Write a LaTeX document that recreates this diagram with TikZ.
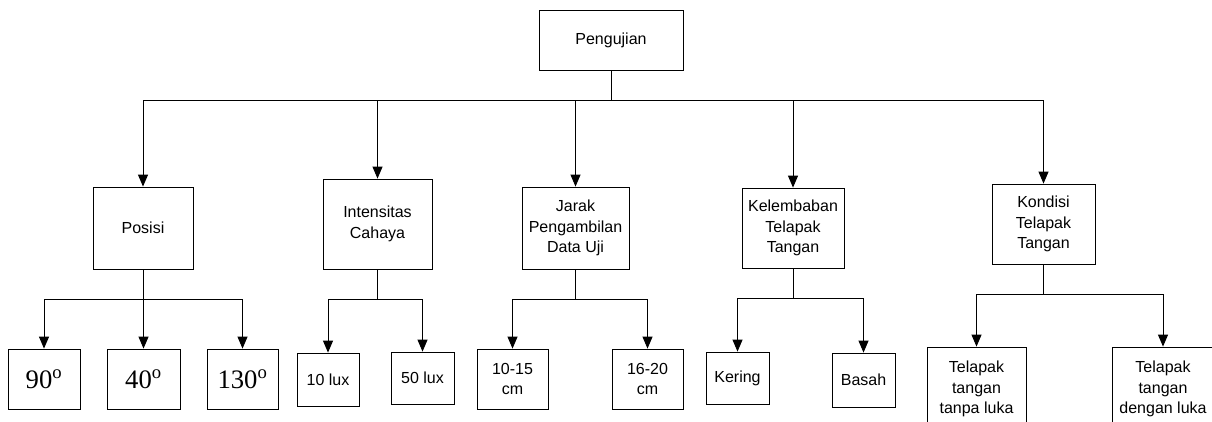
\documentclass[tikz,border=0pt]{standalone}
\usepackage{fontspec}
\setmainfont{Liberation Sans}
\newfontfamily\degfont{Liberation Serif}
\usetikzlibrary{positioning, arrows.meta}

\begin{document}
\begin{tikzpicture}[
    x=0.75pt, y=-0.75pt,
    box/.style={
      draw, minimum width=#1, align=center, inner sep=0pt,
      font=\fontsize{12}{15.5}\selectfont, line width=0.6pt
    },
    degbox/.style={box=#1, font=\degfont\fontsize{20}{24}\selectfont},
    arr/.style={-{Triangle[length=9pt, width=7.5pt]}, line width=0.75pt},
]
    \useasboundingbox (0,0) rectangle (1212,421);
    \clip (0,0) rectangle (1212,421);

    % Root
    \node[box=108pt, minimum height=45pt] (uji) at (611,40) {Pengujian};

    % Level 1
    \node[box=75pt, minimum height=61.5pt] (posisi) at (143,228) {Posisi};
    \node[box=81.75pt, minimum height=67.5pt] (cahaya) at (377.5,224) {Intensitas\\Cahaya};
    \node[box=80.25pt, minimum height=61.5pt] (jarak) at (575.5,228) {Jarak\\Pengambilan\\Data Uji};
    \node[box=76.5pt, minimum height=60pt] (lembab) at (793,228) {Kelembaban\\Telapak\\Tangan};
    \node[box=77.25pt, minimum height=60pt] (kondisi) at (1043.5,224) {Kondisi\\Telapak\\Tangan};

    % Level 2
    \node[degbox=54pt, minimum height=45pt] (d90) at (44,379) {90\textsuperscript{o}};
    \node[degbox=54.75pt, minimum height=45pt] (d40) at (143.5,379) {40\textsuperscript{o}};
    \node[degbox=53.25pt, minimum height=45pt] (d130) at (242.5,379) {130\textsuperscript{o}};
    \node[box=46.5pt, minimum height=39.75pt] (lux10) at (328,379.5) {10 lux};
    \node[box=47.25pt, minimum height=39pt] (lux50) at (422.5,378) {50 lux};
    \node[box=53.25pt, minimum height=45pt] (cm10) at (512.5,379) {10-15\\cm};
    \node[box=53.25pt, minimum height=45pt] (cm16) at (647.5,379) {16-20\\cm};
    \node[box=47.25pt, minimum height=39pt] (kering) at (737.5,378) {Kering};
    \node[box=47.25pt, minimum height=40.5pt] (basah) at (863.5,380) {Basah};
    \node[box=74.25pt, minimum height=63pt] (tanpa) at (976.5,389) {Telapak\\tangan\\tanpa luka};
    \node[box=76.5pt, minimum height=63pt] (dengan) at (1163,389) {Telapak\\tangan\\dengan luka};

    % Connectors from root
    \draw[arr] (uji.south) -- ++(0,30) -| (posisi.north);
    \draw[arr] (uji.south) -- ++(0,30) -| (cahaya.north);
    \draw[arr] (uji.south) -- ++(0,30) -| (jarak.north);
    \draw[arr] (uji.south) -- ++(0,30) -| (lembab.north);
    \draw[arr] (uji.south) -- ++(0,30) -| (kondisi.north);

    % Connectors to level 2
    \draw[arr] (posisi.south) -- ++(0,30) -| (d90.north);
    \draw[arr] (posisi.south) -- ++(0,30) -| (d40.north);
    \draw[arr] (posisi.south) -- ++(0,30) -| (d130.north);
    \draw[arr] (cahaya.south) -- ++(0,30) -| (lux10.north);
    \draw[arr] (cahaya.south) -- ++(0,30) -| (lux50.north);
    \draw[arr] (jarak.south) -- ++(0,30) -| (cm10.north);
    \draw[arr] (jarak.south) -- ++(0,30) -| (cm16.north);
    \draw[arr] (lembab.south) -- ++(0,30) -| (kering.north);
    \draw[arr] (lembab.south) -- ++(0,30) -| (basah.north);
    \draw[arr] (kondisi.south) -- ++(0,30) -| (tanpa.north);
    \draw[arr] (kondisi.south) -- ++(0,30) -| (dengan.north);
\end{tikzpicture}
\end{document}
